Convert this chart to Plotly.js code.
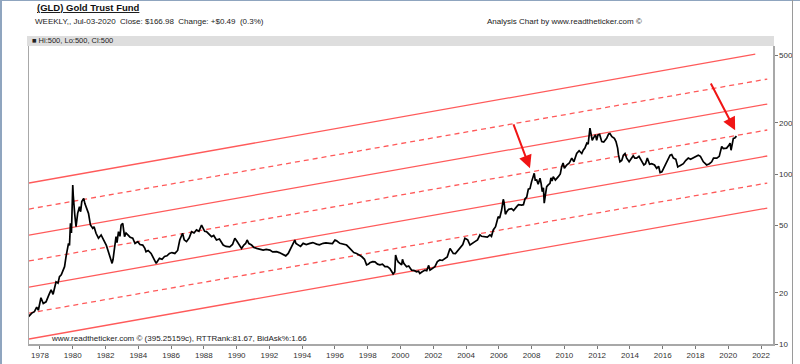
<!DOCTYPE html>
<html><head><meta charset="utf-8">
<script src="https://cdn.plot.ly/plotly-3.0.1.min.js"></script>
<style>
html,body{margin:0;padding:0;background:#fff;overflow:hidden}
#wrap{position:relative;width:800px;height:364px}
#chart{position:absolute;left:0;top:0;width:800px;height:364px}
.bd{position:absolute;background:#8fa5bf}
</style>
</head><body>
<div id="wrap"><div id="chart"></div>
<div class="bd" style="left:0;top:0;width:2px;height:364px"></div>
<div class="bd" style="left:0;top:0;width:800px;height:1px"></div>
<div class="bd" style="left:792px;top:0;width:1px;height:364px;background:#9a9a9a"></div>
</div>
<script>
// ---- price series (decimal year, price) ----
const priceYears = [
1977.30,1977.50,1977.66,1977.80,1977.90,1978.06,1978.20,1978.37,1978.55,1978.68,1978.80,1978.98,
1979.10,1979.19,1979.30,1979.39,1979.50,1979.59,1979.66,1979.74,1979.80,1979.86,1979.92,1979.96,
1980.00,1980.03,1980.06,1980.12,1980.20,1980.30,1980.41,1980.48,1980.55,1980.67,1980.74,1980.81,1980.96,
1981.08,1981.22,1981.30,1981.42,1981.57,1981.73,1981.85,1981.94,1982.05,1982.14,1982.30,1982.40,1982.46,
1982.50,1982.58,1982.64,1982.70,1982.79,1982.88,1982.95,1983.05,1983.10,1983.16,1983.25,1983.36,1983.50,
1983.66,1983.80,1983.97,1984.10,1984.27,1984.40,1984.47,1984.60,1984.78,1984.95,1985.09,1985.20,1985.29,
1985.45,1985.60,1985.75,1985.90,1986.05,1986.23,1986.40,1986.53,1986.70,1986.80,1986.94,1987.10,1987.25,
1987.40,1987.55,1987.70,1987.86,1987.95,1988.05,1988.16,1988.30,1988.47,1988.60,1988.77,1988.95,1989.18,
1989.35,1989.58,1989.75,1989.89,1990.00,1990.20,1990.30,1990.44,1990.55,1990.64,1990.75,1990.91,1991.05,
1991.22,1991.40,1991.62,1991.80,1992.03,1992.20,1992.44,1992.60,1992.84,1993.00,1993.15,1993.28,1993.35,
1993.55,1993.62,1993.75,1993.90,1994.06,1994.25,1994.47,1994.65,1994.88,1995.05,1995.28,1995.45,1995.69,
1995.85,1996.00,1996.10,1996.30,1996.50,1996.71,1996.85,1997.01,1997.15,1997.32,1997.45,1997.63,1997.80,
1997.93,1998.05,1998.13,1998.30,1998.44,1998.60,1998.74,1998.90,1999.05,1999.20,1999.35,1999.48,1999.55,
1999.65,1999.70,1999.78,1999.86,2000.07,2000.12,2000.20,2000.37,2000.50,2000.68,2000.85,2000.98,2001.10,
2001.18,2001.30,2001.49,2001.60,2001.72,2001.80,2001.95,2002.10,2002.25,2002.40,2002.55,2002.71,2002.85,
2003.02,2003.10,2003.22,2003.35,2003.52,2003.70,2003.80,2003.93,2004.10,2004.24,2004.35,2004.54,2004.70,
2004.85,2004.95,2005.15,2005.30,2005.46,2005.55,2005.66,2005.80,2005.96,2006.05,2006.17,2006.27,2006.32,
2006.40,2006.48,2006.60,2006.78,2006.90,2007.09,2007.20,2007.39,2007.50,2007.60,2007.70,2007.80,2007.90,
2008.00,2008.10,2008.16,2008.22,2008.31,2008.40,2008.51,2008.58,2008.65,2008.72,2008.77,2008.84,2008.92,
2009.00,2009.12,2009.18,2009.25,2009.32,2009.45,2009.63,2009.75,2009.83,2009.92,2010.00,2010.14,2010.30,
2010.45,2010.58,2010.75,2010.90,2011.06,2011.15,2011.25,2011.37,2011.45,2011.56,2011.62,2011.70,2011.76,
2011.90,2011.97,2012.05,2012.15,2012.28,2012.40,2012.58,2012.70,2012.78,2012.90,2013.05,2013.15,2013.25,
2013.30,2013.39,2013.50,2013.60,2013.70,2013.80,2013.95,2014.11,2014.20,2014.30,2014.41,2014.55,2014.72,
2014.85,2014.95,2015.06,2015.20,2015.33,2015.50,2015.63,2015.75,2015.84,2015.95,2016.14,2016.30,2016.45,
2016.55,2016.65,2016.80,2016.92,2017.05,2017.26,2017.40,2017.56,2017.70,2017.87,2018.00,2018.17,2018.30,
2018.48,2018.60,2018.68,2018.85,2018.99,2019.10,2019.30,2019.45,2019.60,2019.70,2019.90,2020.05,2020.11,
2020.17,2020.25,2020.31,2020.40,2020.50];
const priceValues = [
14.5,15.2,15.5,16.5,15.8,18.7,17.3,17.7,19.5,20.8,19.6,23.2,
22.8,24.9,25.5,27.2,28.5,32.7,36.5,39.1,38.0,51.3,45.0,70.3,
86.1,75.0,67.3,58.0,49.0,58.7,64.3,60.0,68.8,71.9,67.0,64.3,58.7,
50.1,47.9,49.0,44.8,41.9,43.8,41.5,40.0,38.0,35.7,31.2,29.8,31.5,
33.4,38.5,42.8,39.5,45.8,43.0,50.1,51.3,46.0,42.8,45.0,43.8,42.5,
41.9,39.0,40.0,38.5,38.2,36.5,34.9,35.5,34.1,31.5,29.8,31.0,31.9,
31.5,32.7,33.0,34.1,34.5,34.1,35.5,40.9,44.8,41.0,40.0,42.0,45.8,
45.0,46.9,46.0,50.1,48.0,46.0,45.8,44.5,42.8,43.5,40.9,41.5,38.2,
37.5,37.3,38.5,41.9,40.5,37.3,36.5,38.2,39.0,40.9,39.0,38.2,37.0,
36.5,36.0,35.7,36.0,35.7,34.8,34.9,34.5,33.4,33.0,34.1,36.0,37.3,
40.9,39.0,38.2,37.5,39.1,38.5,39.1,39.5,38.7,38.3,39.1,39.3,39.1,
39.0,40.9,40.5,39.1,38.5,38.2,37.0,35.7,34.5,34.1,33.5,32.7,31.5,
29.2,29.5,30.1,30.5,30.4,29.5,29.2,29.5,28.5,28.5,27.8,26.5,25.8,
26.5,33.4,31.5,30.4,29.2,31.5,29.8,28.5,28.8,27.2,27.0,26.6,26.8,
26.0,26.5,27.2,27.0,29.0,27.2,27.8,28.5,30.5,31.2,31.0,31.9,32.5,
36.5,35.5,34.1,34.0,35.7,37.5,38.5,41.9,41.0,38.2,39.0,40.0,41.0,
43.8,43.0,42.8,42.5,43.8,43.0,46.9,49.0,56.1,55.0,61.4,71.0,68.0,
58.0,59.9,62.0,62.6,61.0,64.3,66.0,65.7,66.0,71.5,73.0,81.5,82.0,
90.2,98.6,101,92.0,92.2,87.0,94.4,88.0,78.7,83.0,67.3,75.0,84.2,
86.0,88.1,95.0,91.0,96.5,92.0,96.5,100,110,116,108,113,116,
124,118,132,137,132,138,142,152,150,186,173,158,162,
170,158,170,171,155,154,162,172,173,166,162,155,142,
130,118,120,129,132,124,118,126,128,124,124,127,118,
113,115,124,114,115,113,108,111,102,103,113,120,129,
130,124,122,110,112,115,120,124,122,124,126,129,127,
118,115,113,115,118,124,124,127,145,141,142,148,152,
138,152,162,163,167];

// ---- parallel channel lines (log-linear) ----
const channelStartYears  = [1977.33,1977.33,1977.33,1977.33,1977.33,1977.33,1977.33];
const channelEndYears    = [2022.38,2022.38,2022.38,2022.38,2022.38,2022.38,2021.65];
const channelStartValues = [10.7,15.2,21.6,30.8,43.7,62.2,88.5];
const channelEndValues   = [63.0,88.5,127.6,181.5,258,362,507];
const channelStyles      = ['solid','dash','solid','dash','solid','dash','solid'];

// ---- arrows ----
const arrowTailYears  = [2006.86, 2018.89];
const arrowTailValues = [200, 348];
const arrowTipYears   = [2007.90, 2020.42];
const arrowTipValues  = [108, 181];

// ---- ticks ----
const xTickYears  = [1978,1980,1982,1984,1986,1988,1990,1992,1994,1996,1998,2000,2002,2004,2006,2008,2010,2012,2014,2016,2018,2020,2022];
const xTickLabels = xTickYears.map(String);
const yTickValues = [10,20,50,100,200,500];
const yTickLabels = ['10','20','50','100','200','500'];

const FONT = 'Arial, "Liberation Sans", sans-serif';
const RED = '#ff5a5a';

const traces = channelStyles.map((st, i) => ({
  type: 'scatter', mode: 'lines', hoverinfo: 'skip',
  x: [channelStartYears[i], channelEndYears[i]],
  y: [channelStartValues[i], channelEndValues[i]],
  line: {color: RED, width: 1.3, dash: st === 'dash' ? '5px,4px' : 'solid'}
}));
traces.push({
  type: 'scatter', mode: 'lines', x: priceYears, y: priceValues,
  line: {color: '#000', width: 1.7}
});

// plot-area pixel helpers for paper positions (plot: x 29..773, y 46..344)
const L = 29, R = 773, T = 46, B = 344;
const px = v => (v - L) / (R - L);
const py = v => (B - v) / (B - T);

const annotations = [
  {xref:'paper', yref:'paper', x:px(35), y:py(7.5), xanchor:'left', yanchor:'middle', showarrow:false,
   text:'(GLD) Gold Trust Fund', font:{family:FONT, size:9.5, weight:'bold', color:'#111', lineposition:'under'}},
  {xref:'paper', yref:'paper', x:px(33), y:py(21.5), xanchor:'left', yanchor:'middle', showarrow:false,
   text:'WEEKLY,, Jul-03-2020  Close: $166.98  Change: +$0.49  (0.3%)', font:{family:FONT, size:8, color:'#222'}},
  {xref:'paper', yref:'paper', x:px(485), y:py(21.5), xanchor:'left', yanchor:'middle', showarrow:false,
   text:'Analysis Chart by www.readtheticker.com ©', font:{family:FONT, size:8, color:'#222'}},
  {xref:'paper', yref:'paper', x:px(30), y:py(41), xanchor:'left', yanchor:'middle', showarrow:false,
   text:'■ Hi:500, Lo:500, Cl:500', font:{family:FONT, size:7.5, color:'#222'}},
  {xref:'paper', yref:'paper', x:px(49), y:py(338.5), xanchor:'left', yanchor:'middle', showarrow:false,
   text:'www.readtheticker.com © (395.25159c), RTTRank:81.67, BidAsk%:1.66', font:{family:FONT, size:8, color:'#222'}}
];
for (let i = 0; i < arrowTipYears.length; i++) {
  annotations.push({
    xref:'x', yref:'y', axref:'x', ayref:'y',
    x: arrowTipYears[i], y: Math.log10(arrowTipValues[i]),
    ax: arrowTailYears[i], ay: Math.log10(arrowTailValues[i]),
    text:'', showarrow:true, arrowhead:2, arrowsize:1.3, arrowwidth:2, arrowcolor:'#f01515', standoff:0
  });
}

const layout = {
  width: 800, height: 364,
  margin: {l: L, r: 800 - R, t: T, b: 364 - B, pad: 0},
  paper_bgcolor: '#fff', plot_bgcolor: '#fff',
  showlegend: false,
  xaxis: {
    range: [1977.33, 2022.73], tickvals: xTickYears, ticktext: xTickLabels,
    ticks: 'outside', ticklen: 3, tickcolor: '#777', tickwidth: 1,
    showgrid: false, zeroline: false, showline: true, linecolor: '#a8a8a8', linewidth: 1.5,
    tickfont: {family: FONT, size: 8, color: '#333'}
  },
  yaxis: {
    type: 'log', range: [1, 2.753], side: 'right',
    tickvals: yTickValues, ticktext: yTickLabels,
    ticks: 'outside', ticklen: 3, tickcolor: '#777', tickwidth: 1,
    showgrid: false, zeroline: false, showline: true, mirror: true, linecolor: '#a8a8a8', linewidth: 1.5,
    tickfont: {family: FONT, size: 8, color: '#333'}
  },
  shapes: [
    {type:'rect', xref:'paper', yref:'paper', x0: px(27), x1: px(774), y0: py(46), y1: py(36),
     fillcolor:'#dedede', line:{width:0}, layer:'below'}
  ],
  annotations: annotations
};

Plotly.newPlot('chart', traces, layout, {displayModeBar: false, staticPlot: true});
</script>
</body></html>
